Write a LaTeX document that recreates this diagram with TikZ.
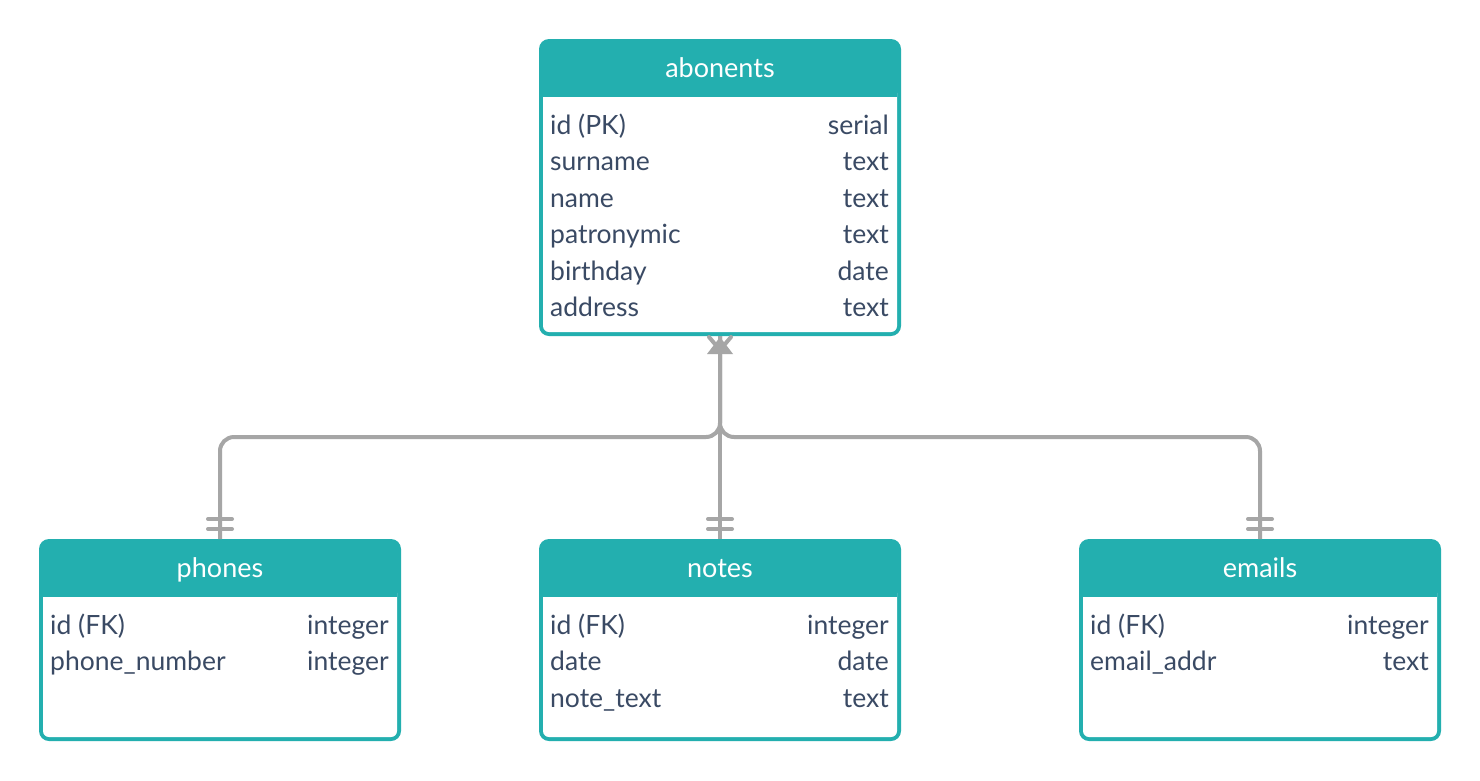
\documentclass[tikz,border=0pt]{standalone}
\usepackage{fontspec}
\setmainfont{Lato}
\usetikzlibrary{calc}
\definecolor{teal0}{RGB}{35,175,175}
\definecolor{gray0}{RGB}{166,166,166}
\definecolor{ink0}{RGB}{58,74,100}
\newcommand\fldfont{\fontsize{26.5}{30}\selectfont}
\newcommand\hdrfont{\fontsize{27}{30}\selectfont}
\tikzset{
  tbl/.style={fill=teal0, rounded corners=10pt, minimum width=362pt, inner sep=0pt, outer sep=0pt},
  hdr/.style={text=white, font=\hdrfont, anchor=base, inner sep=0pt},
  fld/.style={text=ink0, font=\fldfont, anchor=base west, inner sep=0pt},
  typ/.style={text=ink0, font=\fldfont, anchor=base east, inner sep=0pt},
  conn/.style={draw=gray0, line width=4pt, rounded corners=14pt},
  bar/.style={draw=gray0, line width=4pt, line cap=round},
}
\newcommand\tbody[1]{%
  \fill[white, rounded corners=6pt] ($(#1.north west)+(4,48)$) rectangle ($(#1.south east)+(-4,-4)$);
  \fill[teal0] ($(#1.north west)+(4,40)$) rectangle ($(#1.north east)+(-4,58)$);
}
\begin{document}
\begin{tikzpicture}[x=1pt,y=-1pt]
\useasboundingbox[fill=white] (0,0) rectangle (1480,780);
% tables
\node[tbl, minimum height=297pt] (abonents) at (720,187.5) {};
\node[tbl, minimum height=202pt] (phones) at (220,640) {};
\node[tbl, minimum height=202pt] (notes) at (720,640) {};
\node[tbl, minimum height=202pt] (emails) at (1260,640) {};
\tbody{abonents}
\tbody{phones}
\tbody{notes}
\tbody{emails}
% headers
\node[hdr] (habon) at (720,77.5) {abonents};
\node[hdr] (hphon) at (220,577.5) {phones};
\node[hdr] (hnote) at (720,577.5) {notes};
\node[hdr] (hemai) at (1260,577.5) {emails};
% abonents fields
\node[fld] (a1) at (550,134) {id (PK)};      \node[typ] (a1t) at (889,134) {serial};
\node[fld] (a2) at (550,170.5) {surname};    \node[typ] (a2t) at (889,170.5) {text};
\node[fld] (a3) at (550,207) {name};         \node[typ] (a3t) at (889,207) {text};
\node[fld] (a4) at (550,243.5) {patronymic}; \node[typ] (a4t) at (889,243.5) {text};
\node[fld] (a5) at (550,280) {birthday};     \node[typ] (a5t) at (889,280) {date};
\node[fld] (a6) at (550,316.5) {address};    \node[typ] (a6t) at (889,316.5) {text};
% phones fields
\node[fld] (p1) at (50,634) {id (FK)};           \node[typ] (p1t) at (389,634) {integer};
\node[fld] (p2) at (50,670.5) {phone\_number};   \node[typ] (p2t) at (389,670.5) {integer};
% notes fields
\node[fld] (n1) at (550,634) {id (FK)};      \node[typ] (n1t) at (889,634) {integer};
\node[fld] (n2) at (550,670.5) {date};       \node[typ] (n2t) at (889,670.5) {date};
\node[fld] (n3) at (550,707) {note\_text};   \node[typ] (n3t) at (889,707) {text};
% emails fields
\node[fld] (e1) at (1090,634) {id (FK)};         \node[typ] (e1t) at (1429,634) {integer};
\node[fld] (e2) at (1090,670.5) {email\_addr};   \node[typ] (e2t) at (1429,670.5) {text};
% connectors
\draw[conn] (abonents.south) -- ++(0,101) -| (phones.north);
\draw[conn] (abonents.south) -- ++(0,101) -| (emails.north);
\draw[conn] (abonents.south) -- (notes.north);
% many end at abonents
\fill[gray0] ($(abonents.south)+(-13,18)$) -- ($(abonents.south)+(13,18)$) -- ($(abonents.south)+(0,1)$) -- cycle;
\draw[bar] ($(abonents.south)+(0,14)$) -- ($(abonents.south)+(-11,1)$);
\draw[bar] ($(abonents.south)+(0,14)$) -- ($(abonents.south)+(11,1)$);
% one-and-only-one marks
\foreach \t in {phones,notes,emails}{
  \draw[bar] ($(\t.north)+(-12,-20)$) -- ($(\t.north)+(12,-20)$);
  \draw[bar] ($(\t.north)+(-12,-10)$) -- ($(\t.north)+(12,-10)$);
}
\end{tikzpicture}
\end{document}
